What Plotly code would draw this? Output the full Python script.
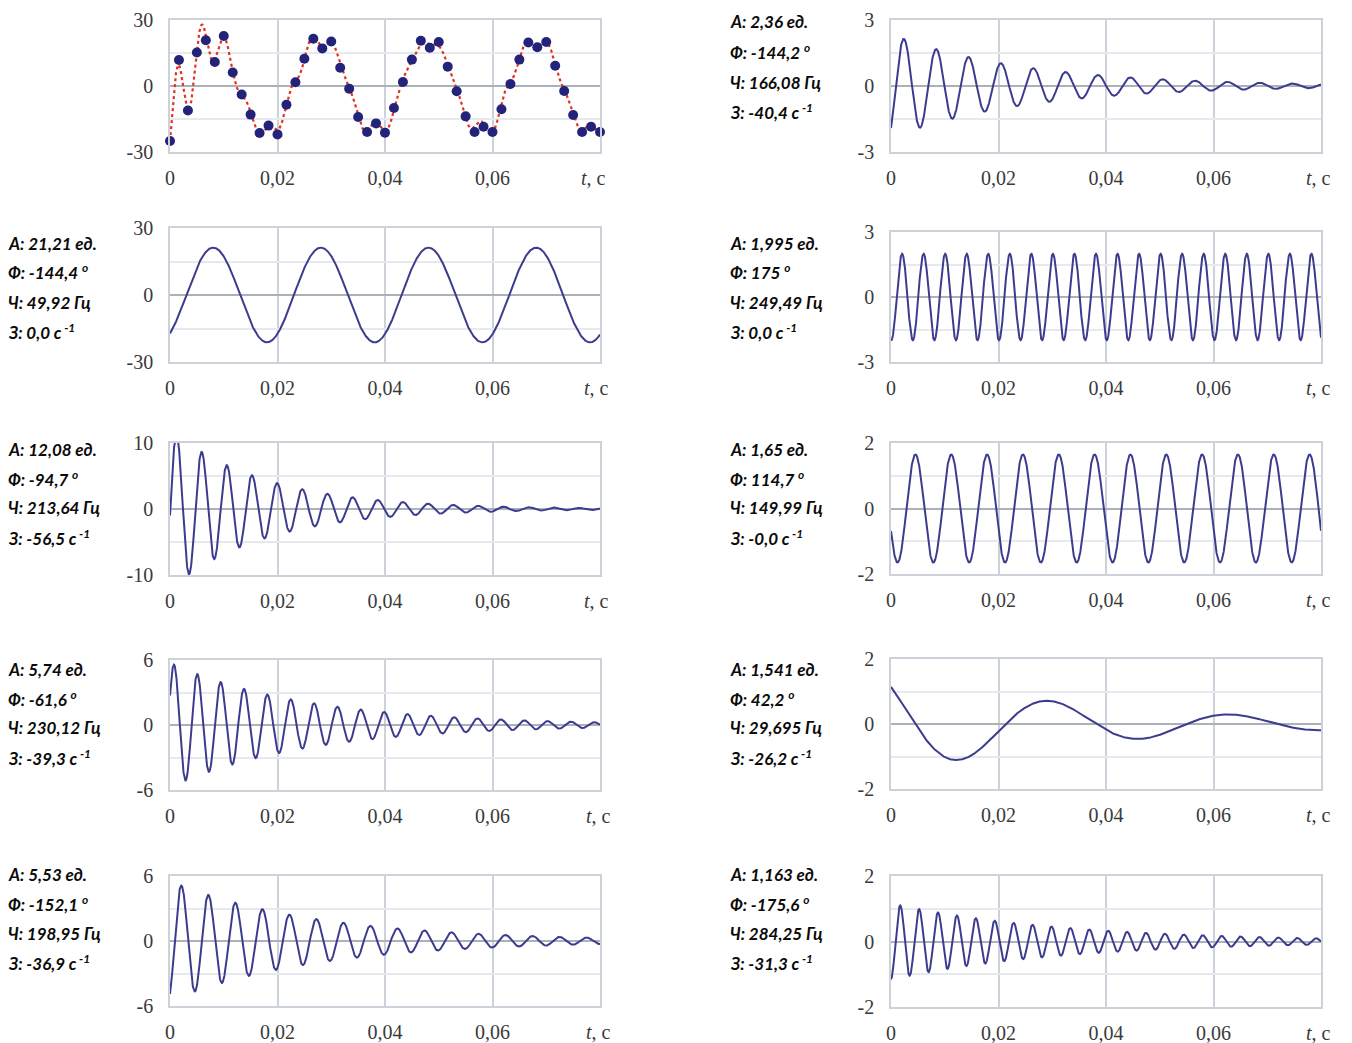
import numpy as np
import plotly.graph_objects as go

# ---------------- data ----------------
# sampled signal (600 Hz sampling, t = 0 ... 0.08 s)
sample_dt = 1.0 / 600.0
sample_values = [
    -25.0, 11.8, -11.1, 15.2, 20.8, 10.9, 22.7, 6.1, -3.9, -13.0,
    -21.4, -18.0, -22.0, -8.5, 1.7, 12.4, 21.5, 17.1, 20.2, 8.3,
    -1.2, -14.1, -20.9, -17.0, -21.2, -10.0, 1.8, 12.0, 20.6, 17.4,
    20.0, 8.8, -2.4, -13.8, -20.9, -18.5, -20.9, -10.6, 0.9, 12.0,
    19.8, 17.6, 20.0, 9.2, -2.3, -13.2, -20.9, -18.5, -20.9,
]

# components (amplitude, phase in degrees, frequency Hz, damping 1/s)
amplitudes = [21.21, 12.08, 5.74, 5.53, 2.36, 1.995, 1.65, 1.541, 1.163]
phases_deg = [-144.4, -94.7, -61.6, -152.1, -144.2, 175.0, 114.7, 42.2, -175.6]
freqs_hz = [49.92, 213.64, 230.12, 198.95, 166.08, 249.49, 149.99, 29.695, 284.25]
damping = [0.0, -56.5, -39.3, -36.9, -40.4, 0.0, -0.0, -26.2, -31.3]

# label texts as printed on the chart
amp_text = ["21,21", "12,08", "5,74", "5,53", "2,36", "1,995", "1,65", "1,541", "1,163"]
phase_text = ["-144,4", "-94,7", "-61,6", "-152,1", "-144,2", "175", "114,7", "42,2", "-175,6"]
freq_text = ["49,92", "213,64", "230,12", "198,95", "166,08", "249,49", "149,99", "29,695", "284,25"]
damp_text = ["0,0", "-56,5", "-39,3", "-36,9", "-40,4", "0,0", "-0,0", "-26,2", "-31,3"]

# y-axis limits of each panel (panel 0 = sampled signal, then components)
axis_max = [30, 30, 10, 6, 6, 3, 3, 2, 2, 2]

x_tickvals = [0, 0.02, 0.04, 0.06]
x_ticktext = ["0", "0,02", "0,04", "0,06"]
t_end = 0.08

# ---------------- layout geometry ----------------
# the page body has an 8 px margin, so the figure is sized/offset accordingly
OFF = 8
W, H = 1352 - OFF, 1043 - OFF


def px(x):
    return (x - OFF) / W


def py(y):
    return 1 - (y - OFF) / H


col_x = [(170, 600), (891, 1321)]
# (top, bottom) pixel of each panel: panels 0-4 left column, 5-9 right column
panel_px = [
    (20, 152), (228, 362), (443, 575), (660, 790), (876, 1006),
    (20, 152), (232, 362), (443, 574), (659, 789), (876, 1007),
]
text_rows = [
    None, (243, 272, 302, 331), (449, 478, 508, 537), (669, 698, 727, 757), (874, 903, 933, 962),
    (22, 52, 82, 111), (243, 272, 302, 331), (449, 478, 508, 537), (669, 698, 727, 757), (874, 903, 933, 962),
]
tc_x = [593, 596, 596, 598, 598, 1318, 1318, 1318, 1318, 1318]

LINE = "#3c3c8e"
DOT = "#23237a"
RED = "#e2311d"
BORDER = "#cdd2da"
HALF = "#e6e9ee"
ZERO = "#aab1bb"
TICKFONT = dict(family="Liberation Serif, Times New Roman, serif", size=20, color="#3a3a3a")
TEXTFONT = dict(family="Lato, Open Sans, sans-serif", size=17, color="#0a0a0a", weight=900)

fig = go.Figure()

t_fine = np.linspace(0, t_end, 3000)


def component(k, t):
    return (amplitudes[k] * np.exp(damping[k] * t)
            * np.cos(2 * np.pi * freqs_hz[k] * t + np.deg2rad(phases_deg[k])))


annotations = []
for p in range(10):
    ax = "" if p == 0 else str(p + 1)
    xname, yname = "x" + ax, "y" + ax
    col = 0 if p < 5 else 1
    top, bot = panel_px[p]
    x0, x1 = col_x[col]
    ym = axis_max[p]

    if p == 0:
        total = sum(component(k, t_fine) for k in range(len(amplitudes)))
        fig.add_trace(go.Scatter(x=t_fine, y=total, mode="lines",
                                 line=dict(color=RED, width=2.2, dash="dot"),
                                 xaxis=xname, yaxis=yname, showlegend=False))
        t_s = np.arange(len(sample_values)) * sample_dt
        fig.add_trace(go.Scatter(x=t_s, y=sample_values, mode="markers",
                                 marker=dict(color=DOT, size=10),
                                 xaxis=xname, yaxis=yname, showlegend=False,
                                 cliponaxis=False))
    else:
        k = p - 1
        fig.add_trace(go.Scatter(x=t_fine, y=component(k, t_fine), mode="lines",
                                 line=dict(color=LINE, width=2),
                                 xaxis=xname, yaxis=yname, showlegend=False))
        lines = [
            f"А: {amp_text[k]} ед.",
            f"Ф: {phase_text[k]} <sup>o</sup>",
            f"Ч: {freq_text[k]} Гц",
            f"З: {damp_text[k]} с<sup> -1</sup>",
        ]
        tx = 6 if col == 0 else 728
        for ln, ypix in zip(lines, text_rows[p]):
            annotations.append(dict(
                text=f"<b><i>{ln}</i></b>", x=px(tx), y=py(ypix),
                xref="paper", yref="paper", xanchor="left", yanchor="middle",
                showarrow=False, font=TEXTFONT))

    # "t, c" axis label
    annotations.append(dict(
        text="<i>t</i>, c", x=px(tc_x[p]), y=py(bot + 26),
        xref="paper", yref="paper", xanchor="center", yanchor="middle",
        showarrow=False, font=TICKFONT))

    xkey = "xaxis" + ax
    ykey = "yaxis" + ax
    fig.layout[xkey] = dict(
        domain=[px(x0), px(x1)], anchor=yname, range=[0, t_end],
        tickvals=x_tickvals, ticktext=x_ticktext, automargin=False,
        showgrid=True, gridcolor=BORDER, gridwidth=1.5,
        showline=True, linecolor=BORDER, linewidth=1.5, mirror=True,
        zeroline=False, ticks="outside", ticklen=7, tickcolor="rgba(0,0,0,0)",
        tickfont=TICKFONT, fixedrange=True,
    )
    fig.layout[ykey] = dict(
        domain=[py(bot), py(top)], anchor=xname, range=[-ym, ym],
        tickvals=[-ym, -ym / 2, 0, ym / 2, ym], automargin=False,
        ticktext=[str(-ym), "", "0", "", str(ym)],
        showgrid=True, gridcolor=HALF, gridwidth=1.5,
        zeroline=True, zerolinecolor=ZERO, zerolinewidth=1.5,
        showline=True, linecolor=BORDER, linewidth=1.5, mirror=True,
        ticks="outside", ticklen=11, tickcolor="rgba(0,0,0,0)",
        tickfont=TICKFONT, fixedrange=True,
    )

fig.update_layout(
    width=W, height=H, margin=dict(l=0, r=0, t=0, b=0, pad=0, autoexpand=False),
    paper_bgcolor="white", plot_bgcolor="white",
    annotations=annotations, showlegend=False,
)

fig.write_html("out.html")
